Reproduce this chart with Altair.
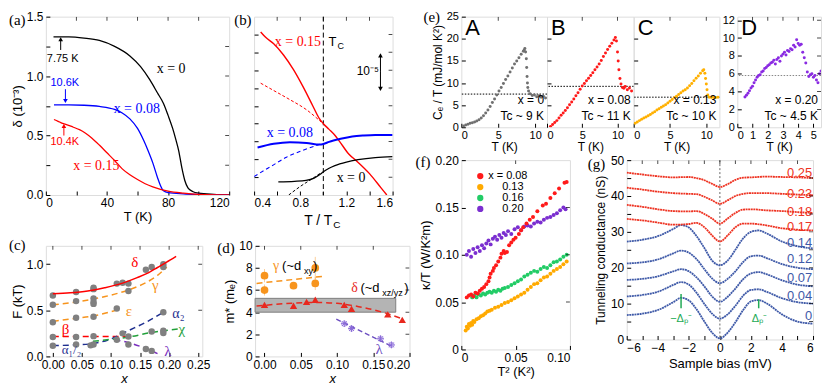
import altair as alt
import pandas as pd

SANS = "Liberation Sans"
SERIF = "Liberation Serif"
ONE = pd.DataFrame({"k": [0]})

# ---------------- (a) delta vs T ----------------
a_T0 = [5, 15, 25, 35, 45, 55, 62, 68, 73, 77, 80, 83, 85, 87, 89, 91, 93, 96, 100, 110, 120]
a_d0 = [1.33, 1.33, 1.32, 1.30, 1.25, 1.17, 1.08, 0.97, 0.86, 0.77, 0.67, 0.56, 0.47, 0.37, 0.23, 0.12, 0.06, 0.03, 0.015, 0.005, 0.0]
a_T08 = [5.3, 15, 25, 35, 45, 50, 55, 60, 64, 67, 70, 73, 75, 77, 80, 90, 100, 120]
a_d08 = [0.758, 0.758, 0.755, 0.745, 0.72, 0.69, 0.64, 0.56, 0.46, 0.37, 0.27, 0.15, 0.08, 0.035, 0.02, 0.01, 0.005, 0.0]
a_T15 = [5.3, 8, 10.4, 13, 18, 22, 26, 30, 35, 40, 45, 50, 55, 60, 65, 70, 80, 90, 100, 120]
a_d15 = [0.635, 0.62, 0.605, 0.595, 0.57, 0.55, 0.52, 0.48, 0.42, 0.355, 0.29, 0.22, 0.17, 0.13, 0.095, 0.068, 0.032, 0.015, 0.005, 0.0]

# ---------------- (b) normalized curves ----------------
b_r_x = [0.457, 0.50, 0.57, 0.655, 0.74, 0.825, 0.91, 0.967, 1.0, 1.05, 1.10, 1.14, 1.22, 1.29, 1.40, 1.50, 1.55]
b_r_y = [9.14, 8.84, 8.48, 7.85, 7.04, 6.06, 4.98, 4.27, 4.0, 3.68, 3.35, 3.01, 2.3, 1.9, 1.2, 0.4, 0.0]
b_rd_x = [0.457, 0.6, 0.712, 0.85, 0.98]
b_rd_y = [6.27, 5.75, 5.34, 4.8, 4.1]
b_b_x = [0.43, 0.57, 0.71, 0.855, 0.967, 1.0, 1.05, 1.15, 1.25, 1.35, 1.45, 1.6]
b_b_y = [2.66, 2.87, 2.96, 2.92, 2.83, 2.86, 2.98, 3.15, 3.28, 3.34, 3.37, 3.37]
b_bd_x = [0.4, 0.55, 0.68, 0.82, 0.98]
b_bd_y = [1.04, 1.62, 2.12, 2.5, 2.87]
b_k_x = [0.61, 0.75, 0.85, 0.92, 0.97, 1.0, 1.05, 1.1, 1.2, 1.3, 1.45, 1.6]
b_k_y = [0.74, 0.77, 0.82, 0.95, 1.15, 1.3, 1.5, 1.65, 1.85, 1.98, 2.1, 2.15]
b_kd_x = [0.70, 0.8, 0.9, 0.98]
b_kd_y = [0.0, 0.48, 0.9, 1.25]

# ---------------- (c) frequencies ----------------
c_x = [0, 0, 0, 0, 0, 0.04, 0.04, 0.04, 0.04, 0.04, 0.065, 0.07, 0.07, 0.07, 0.07, 0.07, 0.07, 0.07, 0.07,
       0.11, 0.11, 0.11, 0.12, 0.12, 0.13, 0.13, 0.13, 0.13, 0.16, 0.16, 0.17, 0.17, 0.17, 0.19, 0.19, 0.19, 0.19, 0.19]
c_F = [0.66, 0.56, 0.37, 0.21, 0.115, 0.70, 0.60, 0.42, 0.21, 0.13, 0.12, 0.73, 0.745, 0.63, 0.59, 0.57, 0.43, 0.22, 0.13,
       0.79, 0.52, 0.18, 0.80, 0.25, 0.79, 0.71, 0.215, 0.13, 0.94, 0.08, 0.97, 0.27, 0.06, 1.0, 0.97, 0.48, 0.28, 0.255]
c_delta_x = [0, 0.03, 0.06, 0.089, 0.12, 0.145, 0.165, 0.18, 0.195, 0.212]
c_delta_y = [0.68, 0.69, 0.71, 0.745, 0.795, 0.855, 0.91, 0.965, 1.02, 1.085]
c_gamma_x = [0, 0.05, 0.09, 0.134, 0.16, 0.18, 0.196]
c_gamma_y = [0.56, 0.60, 0.65, 0.73, 0.80, 0.88, 0.97]
c_eps_x = [0, 0.04, 0.07, 0.114]
c_eps_y = [0.38, 0.415, 0.44, 0.51]
c_beta_x = [0, 0.134]
c_beta_y = [0.215, 0.215]
c_alpha_x = [0, 0.04, 0.07, 0.1, 0.13, 0.16, 0.19]
c_alpha_y = [0.118, 0.125, 0.14, 0.19, 0.28, 0.37, 0.48]
c_chi_x = [0.069, 0.1, 0.13, 0.17, 0.218]
c_chi_y = [0.165, 0.185, 0.21, 0.26, 0.30]
c_lam_x = [0.106, 0.13, 0.15, 0.17, 0.18]
c_lam_y = [0.18, 0.15, 0.11, 0.06, 0.03]

# ---------------- (d) masses ----------------
d_gx = [0, 0, 0.04, 0.07, 0.07]
d_gy = [7.3, 6.0, 6.4, 8.0, 6.6]
d_gerr = [0.6, 0.5, 0.3, 1.0, 0.6]
d_tx = [0, 0.04, 0.058, 0.07, 0.11, 0.12, 0.17, 0.19]
d_ty = [4.66, 4.58, 4.93, 5.13, 4.66, 4.3, 3.8, 3.3]
d_lx = [0.11, 0.12, 0.16, 0.175]
d_ly = [2.96, 2.52, 1.6, 1.04]
d_lfit_x = [0.099, 0.176]
d_lfit_y = [3.37, 0.9]
d_dfit_x = [-0.011, 0.03, 0.07, 0.10, 0.13, 0.16, 0.19]
d_dfit_y = [4.55, 4.78, 4.88, 4.8, 4.5, 4.05, 3.4]
d_gfit_x = [-0.011, 0.082]
d_gfit_y = [6.6, 7.25]

# ---------------- (e) specific heat ----------------
A_T = [0.3, 0.6, 0.9, 1.2, 1.5, 1.8, 2.1, 2.4, 2.7, 3.0, 3.3, 3.6, 3.9, 4.2, 4.5, 4.8, 5.1, 5.4, 5.7, 6.0, 6.3, 6.6,
       6.9, 7.2, 7.5, 7.8, 8.1, 8.4, 8.6, 8.5, 8.7, 8.8, 8.85, 8.9, 8.95, 9.0, 9.1, 9.3, 9.6, 9.9, 10.2, 10.5, 10.8, 11.1, 11.4]
A_C = [0.3, 0.5, 0.7, 0.9, 1.0, 1.2, 1.4, 1.7, 2.1, 2.6, 3.2, 3.9, 4.7, 5.6, 6.4, 7.3, 8.2, 9.0, 9.9, 10.8, 11.6, 12.5,
       13.4, 14.3, 15.0, 15.7, 16.5, 17.2, 17.8, 17.4, 17.0, 15.5, 13.5, 11.5, 10.0, 9.0, 8.2, 7.6, 7.2, 7.3, 6.9, 7.1, 6.8, 7.0, 6.6]
B_T = [0.5, 0.8, 1.1, 1.4, 1.7, 2.0, 2.3, 2.6, 2.9, 3.2, 3.5, 3.8, 4.1, 4.4, 4.7, 5.0, 5.3, 5.6, 5.9, 6.2, 6.5, 6.8,
       7.1, 7.4, 7.7, 8.0, 8.3, 8.6, 8.9, 9.2, 9.5, 9.7, 9.85, 10.0, 10.1, 10.2, 10.35, 10.5, 10.7, 10.9, 11.1, 11.4, 11.7, 12.0]
B_C = [0.2, 0.6, 1.1, 1.5, 2.1, 2.7, 3.2, 3.8, 4.4, 5.1, 5.7, 6.4, 7.1, 7.8, 8.6, 9.3, 9.9, 10.5, 11.1, 11.7, 12.3, 13.0,
       13.6, 14.3, 15.1, 16.0, 16.8, 17.6, 18.3, 19.0, 19.7, 20.3, 19.5, 17.0, 15.0, 13.0, 11.0, 9.8, 9.0, 8.8, 9.2, 8.5, 8.9, 8.2]
C_T = [0.2, 0.5, 0.8, 1.1, 1.4, 1.7, 2.0, 2.3, 2.6, 2.9, 3.2, 3.5, 3.8, 4.1, 4.4, 4.7, 5.0, 5.3, 5.6, 5.9, 6.2, 6.5,
       6.8, 7.1, 7.4, 7.7, 8.0, 8.3, 8.6, 8.9, 9.2, 9.5, 9.65, 9.8, 9.9, 10.0, 10.1, 10.2, 10.4, 10.7, 11.0, 11.3, 11.6]
C_C = [0.9, 1.2, 1.5, 1.8, 2.1, 2.3, 2.6, 2.9, 3.2, 3.5, 3.9, 4.2, 4.5, 4.8, 5.1, 5.5, 5.9, 6.3, 6.7, 7.0, 7.4, 7.8,
       8.2, 8.5, 8.9, 9.4, 9.9, 10.5, 11.1, 11.6, 12.2, 12.8, 13.0, 12.2, 11.0, 9.8, 8.5, 7.3, 6.8, 6.7, 6.8, 6.7, 6.8]
D_T = [0.5, 0.6, 0.7, 0.8, 0.9, 1.0, 1.1, 1.2, 1.3, 1.4, 1.5, 1.6, 1.7, 1.8, 1.9, 2.0, 2.1, 2.2, 2.3, 2.4, 2.5, 2.6,
       2.7, 2.8, 2.9, 3.0, 3.1, 3.2, 3.3, 3.4, 3.5, 3.6, 3.7, 3.8, 3.9, 4.0, 4.1, 4.2, 4.3, 4.4, 4.5, 4.6, 4.7, 4.8, 4.9,
       5.0, 5.1, 5.2, 5.3, 5.4, 5.5]
D_C = [3.4, 3.6, 3.8, 4.1, 4.4, 4.6, 5.0, 5.3, 5.6, 5.8, 5.9, 6.2, 6.3, 6.6, 6.7, 6.9, 7.0, 7.2, 7.3, 7.5, 7.1, 7.6,
       7.8, 7.4, 8.0, 8.2, 8.4, 8.1, 8.6, 8.5, 8.8, 8.7, 9.2, 9.0, 9.8, 9.4, 9.2, 9.3, 8.4, 7.8, 7.2, 6.2, 5.7, 5.9, 6.0,
       5.6, 5.8, 5.3, 5.0, 6.0, 6.3]

# ---------------- (f) thermal conductivity ----------------
f_r_x = [0.005, 0.007, 0.009, 0.011, 0.013, 0.015, 0.017, 0.019, 0.021, 0.023, 0.025, 0.026, 0.027, 0.029, 0.030, 0.032,
         0.034, 0.036, 0.037, 0.039, 0.040, 0.042, 0.044, 0.046, 0.048, 0.050, 0.053, 0.055, 0.057, 0.060, 0.063, 0.066,
         0.070, 0.075, 0.078, 0.082, 0.086, 0.090, 0.095, 0.097]
f_r_y = [0.055, 0.057, 0.058, 0.056, 0.060, 0.059, 0.062, 0.064, 0.066, 0.069, 0.072, 0.076, 0.080, 0.083, 0.086, 0.089,
         0.093, 0.097, 0.101, 0.104, 0.102, 0.103, 0.110, 0.113, 0.116, 0.118, 0.122, 0.126, 0.129, 0.133, 0.137, 0.140,
         0.146, 0.152, 0.154, 0.160, 0.165, 0.170, 0.176, 0.177]
f_o_x = [0.004, 0.005, 0.006, 0.007, 0.008, 0.009, 0.010, 0.011, 0.012, 0.014, 0.016, 0.018, 0.020, 0.022, 0.024, 0.026,
         0.028, 0.031, 0.034, 0.037, 0.040, 0.043, 0.046, 0.049, 0.052, 0.055, 0.058, 0.061, 0.064, 0.067, 0.070, 0.073,
         0.076, 0.079, 0.082, 0.085, 0.088, 0.091, 0.094, 0.097]
f_o_y = [0.020, 0.024, 0.022, 0.027, 0.025, 0.028, 0.026, 0.030, 0.029, 0.032, 0.033, 0.035, 0.036, 0.038, 0.040, 0.041,
         0.042, 0.044, 0.045, 0.047, 0.049, 0.050, 0.052, 0.054, 0.056, 0.058, 0.060, 0.063, 0.066, 0.069, 0.070, 0.073,
         0.076, 0.077, 0.080, 0.083, 0.085, 0.087, 0.090, 0.093]
f_g_x = [0.010, 0.012, 0.014, 0.016, 0.018, 0.020, 0.022, 0.024, 0.026, 0.028, 0.030, 0.032, 0.034, 0.036, 0.038, 0.040,
         0.043, 0.046, 0.049, 0.052, 0.055, 0.058, 0.061, 0.064, 0.067, 0.070, 0.073, 0.076, 0.079, 0.082, 0.085, 0.088,
         0.091, 0.094, 0.097]
f_g_y = [0.055, 0.057, 0.055, 0.058, 0.057, 0.059, 0.058, 0.060, 0.061, 0.060, 0.062, 0.061, 0.063, 0.062, 0.064, 0.065,
         0.066, 0.068, 0.070, 0.072, 0.074, 0.077, 0.079, 0.081, 0.083, 0.082, 0.085, 0.087, 0.086, 0.089, 0.092, 0.093,
         0.095, 0.098, 0.100]
f_p_x = [0.005, 0.007, 0.009, 0.011, 0.013, 0.015, 0.017, 0.019, 0.021, 0.023, 0.025, 0.027, 0.029, 0.031, 0.033, 0.035,
         0.037, 0.039, 0.041, 0.043, 0.046, 0.049, 0.052, 0.055, 0.058, 0.061, 0.064, 0.067, 0.070, 0.073, 0.076, 0.079,
         0.082, 0.085, 0.088, 0.091, 0.094, 0.096]
f_p_y = [0.100, 0.104, 0.098, 0.106, 0.102, 0.108, 0.104, 0.110, 0.107, 0.112, 0.115, 0.111, 0.117, 0.119, 0.116, 0.121,
         0.118, 0.123, 0.121, 0.125, 0.122, 0.127, 0.129, 0.126, 0.130, 0.131, 0.130, 0.133, 0.135, 0.134, 0.137, 0.139,
         0.140, 0.142, 0.144, 0.147, 0.150, 0.148]
f_labels = ["x = 0.08", "0.13", "0.16", "0.20"]

# ---------------- (g) tunneling spectra ----------------
g_bias_blue = [-6, -5, -4, -3, -2.5, -2, -1.5, -1, -0.5, 0, 0.5, 1, 1.5, 2, 2.5, 3, 4, 5, 6]
g_00 = [6.8, 7.2, 8.2, 10.4, 11.6, 10.9, 8.4, 5.0, 1.9, 0.3, 1.9, 4.8, 8.2, 10.6, 11.0, 10.1, 7.0, 5.0, 4.4]
g_04 = [12.0, 12.4, 13.3, 15.2, 16.0, 15.3, 13.0, 9.9, 7.2, 5.8, 7.0, 9.4, 12.2, 13.8, 14.0, 13.3, 11.5, 10.4, 10.0]
g_07 = [16.6, 16.9, 17.6, 19.0, 19.6, 19.0, 17.3, 14.8, 12.0, 10.5, 11.9, 14.2, 16.8, 18.4, 18.8, 18.2, 16.5, 15.3, 14.8]
g_12 = [21.2, 21.5, 22.3, 24.0, 24.8, 24.2, 22.4, 19.6, 17.0, 15.7, 16.9, 19.0, 21.6, 23.2, 23.4, 22.7, 21.0, 20.0, 19.6]
g_14 = [27.3, 27.8, 28.8, 30.8, 31.9, 31.2, 28.8, 25.5, 22.0, 20.7, 22.0, 25.0, 28.2, 30.0, 30.4, 29.6, 27.3, 26.0, 25.4]
g_bias_red = [-6, -5, -4, -3, -2, -1.5, -1, -0.5, 0, 0.5, 1, 1.5, 2, 3, 4, 5, 6]
g_17 = [33.6, 33.2, 32.6, 32.0, 32.2, 32.5, 31.3, 29.0, 27.3, 29.0, 31.3, 32.3, 32.3, 31.8, 31.0, 30.6, 30.4]
g_18 = [37.5, 37.0, 36.3, 35.8, 35.7, 35.8, 35.0, 33.7, 32.3, 33.7, 35.3, 36.2, 36.3, 36.0, 35.8, 35.5, 35.3]
g_23 = [42.3, 41.8, 41.2, 40.8, 40.6, 40.5, 39.8, 38.8, 37.8, 38.8, 40.0, 40.6, 40.8, 40.8, 40.6, 40.4, 40.2]
g_25 = [46.5, 46.0, 45.5, 45.2, 45.3, 45.0, 44.4, 43.4, 42.5, 43.3, 44.5, 45.1, 45.2, 45.4, 45.3, 45.2, 45.0]
g_labels = ["0.25", "0.23", "0.18", "0.17", "0.14", "0.12", "0.07", "0.04", "0"]
g_label_y = [46.4, 40.6, 35.6, 31.3, 27.0, 22.3, 17.1, 12.1, 6.6]

# ---------------- colours ----------------
RED, BLUE, BLACK = "#ff0000", "#0000ff", "#000000"
ORANGE, NAVY, GREEN, PURPLE, GREY = "#f7941d", "#1f2f8f", "#22a03a", "#7a2fbe", "#808080"
G_BLUE, G_RED, G_GREEN = "#3f5aa8", "#ee3322", "#22aa55"

# ---------------- sizes ----------------
W_A, H_AB, W_B = 184, 179, 139
W_C, H_CD, W_D = 157, 111, 155
W_EA, W_EB, W_EC, W_ED, H_E, W_SP = 86, 87, 86, 84, 111, 18
W_F, H_F, W_G, H_G = 109, 190, 187, 180


def pts(xs, ys, **extra):
    return pd.DataFrame({"x": xs, "y": ys, **extra})


def axis(values, labels=True, label_expr=None, fmt=None, title_pad=None, title_style=None,
         label_size=12, title_size=13, label_pad=3):
    kw = dict(values=values, labels=labels, offset=-4, tickSize=4, domain=False, labelPadding=label_pad,
              grid=False, tickColor="black", labelColor="black", labelFont=SANS, labelFontSize=label_size,
              titleFont=SANS, titleFontSize=title_size, titleFontWeight="normal", titleColor="black")
    if label_expr is not None:
        kw["labelExpr"] = label_expr
    if fmt is not None:
        kw["format"] = fmt
    if title_pad is not None:
        kw["titlePadding"] = title_pad
    if title_style is not None:
        kw["titleFontStyle"] = title_style
    return alt.Axis(**kw)


def X(dom, ax, title=None):
    return alt.X("x:Q", scale=alt.Scale(domain=dom, nice=False, zero=False), axis=ax, title=title)


def Y(dom, ax, title=None):
    return alt.Y("y:Q", scale=alt.Scale(domain=dom, nice=False, zero=False), axis=ax, title=title)


def line(d, xe, ye, color, width=1.3, dash=None, interp="monotone"):
    kw = dict(color=color, strokeWidth=width, interpolate=interp, clip=True)
    if dash is not None:
        kw["strokeDash"] = dash
    return alt.Chart(d).mark_line(**kw).encode(x=xe, y=ye)


def dots(d, xe, ye, color, size=10, shape="circle", filled=True, opacity=1.0, sw=1.0):
    return alt.Chart(d).mark_point(shape=shape, filled=filled, size=size, color=color,
                                   opacity=opacity, strokeWidth=sw, clip=True).encode(x=xe, y=ye)


def dtext(x, y, xe, ye, txt, color="black", size=12, font=SANS, align="center", baseline="middle",
          style="normal", dx=0, dy=0):
    return alt.Chart(pts([x], [y])).mark_text(text=txt, color=color, fontSize=size, font=font, align=align,
                                             baseline=baseline, fontStyle=style, dx=dx, dy=dy).encode(x=xe, y=ye)


def ptext(px, py, txt, color="black", size=12, font=SANS, align="left", baseline="top", style="normal"):
    return alt.Chart(ONE).mark_text(text=txt, color=color, fontSize=size, font=font, align=align,
                                    baseline=baseline, fontStyle=style).encode(x=alt.value(px), y=alt.value(py))


def panel_label(txt, px, py):
    return ptext(px, py, txt, size=15, font=SERIF)


def mirror(xe, ye, w, xvals=None, yvals=None):
    """Inward tick marks on the top and right frame edges, at the axes' own tick values."""
    out = []
    if xvals:
        out.append(alt.Chart(pd.DataFrame({"x": xvals})).mark_tick(
            orient="vertical", size=4, thickness=1, color="black", clip=True).encode(x=xe, y=alt.value(2)))
    if yvals:
        out.append(alt.Chart(pd.DataFrame({"y": yvals})).mark_tick(
            orient="horizontal", size=4, thickness=1, color="black", clip=True).encode(y=ye, x=alt.value(w - 2)))
    return out


def arrow(x, y0, y1, xe, ye, color):
    d = pd.DataFrame({"x": [x], "y": [y0], "y2": [y1]})
    r = alt.Chart(d).mark_rule(color=color, strokeWidth=1).encode(x=xe, y=ye, y2="y2:Q")
    shape = "triangle-up" if y1 > y0 else "triangle-down"
    h = alt.Chart(pts([x], [y1])).mark_point(shape=shape, filled=True, size=22, color=color, opacity=1).encode(x=xe, y=ye)
    return [r, h]


# ================= panel (a) =================
a_xt = [0, 20, 40, 60, 80, 100, 120]
a_yt = [0, 0.25, 0.5, 0.75, 1.0, 1.25, 1.5]
xa = X([0, 120], axis(a_xt, label_expr="datum.value % 40 === 0 ? datum.label : ''", title_pad=2), "T (K)")
ya = Y([0, 1.5], axis(a_yt, label_expr="datum.value % 0.5 === 0 ? format(datum.value, '.1f') : ''", title_pad=2),
       "δ (10⁻³)")
pa_layers = [
    line(pts(a_T0, a_d0), xa, ya, BLACK),
    line(pts(a_T08, a_d08), xa, ya, BLUE),
    line(pts(a_T15, a_d15), xa, ya, RED),
    *arrow(9.7, 1.22, 1.31, xa, ya, BLACK),
    *arrow(12.8, 0.89, 0.79, xa, ya, BLUE),
    *arrow(11.8, 0.50, 0.58, xa, ya, RED),
    dtext(11, 1.14, xa, ya, "7.75 K", BLACK, 11),
    dtext(12.4, 0.94, xa, ya, "10.6K", BLUE, 11),
    dtext(12.4, 0.445, xa, ya, "10.4K", RED, 11),
    dtext(82, 1.056, xa, ya, "x = 0", BLACK, 14, SERIF),
    dtext(59.5, 0.726, xa, ya, "x = 0.08", BLUE, 14, SERIF),
    dtext(33, 0.24, xa, ya, "x = 0.15", RED, 14, SERIF),
    *mirror(xa, ya, W_A, a_xt[1:-1], a_yt[1:-1]),
    panel_label("(a)", -37, -4),
]
pa = alt.layer(*pa_layers).properties(width=W_A, height=H_AB)

# ================= panel (b) =================
b_xt = [0.4, 0.6, 0.8, 1.0, 1.2, 1.4, 1.6]
b_yt = [1, 2, 3, 4, 5, 6, 7, 8, 9]
xb = X([0.4, 1.6], axis(b_xt, fmt=".1f"), None)
yb = Y([0, 10], axis(b_yt, labels=False), None)
pb_layers = [
    alt.Chart(pd.DataFrame({"x": [1.0]})).mark_rule(color="black", strokeDash=[5, 3], strokeWidth=1).encode(x=xb),
    line(pts(b_rd_x, b_rd_y), xb, yb, RED, 1, [3, 2]),
    line(pts(b_bd_x, b_bd_y), xb, yb, BLUE, 1.1, [4, 3]),
    line(pts(b_kd_x, b_kd_y), xb, yb, BLACK, 1, [3, 2]),
    line(pts(b_r_x, b_r_y), xb, yb, RED, 1.4),
    line(pts(b_b_x, b_b_y), xb, yb, BLUE, 2),
    line(pts(b_k_x, b_k_y), xb, yb, BLACK, 1.3),
    *arrow(1.495, 6.9, 7.83, xb, yb, BLACK),
    *arrow(1.495, 6.9, 5.95, xb, yb, BLACK),
    dtext(1.385, 6.95, xb, yb, "10⁻⁵", BLACK, 12),
    dtext(0.78, 8.57, xb, yb, "x = 0.15", RED, 14, SERIF),
    dtext(0.71, 3.46, xb, yb, "x = 0.08", BLUE, 14, SERIF),
    dtext(1.24, 0.95, xb, yb, "x = 0", BLACK, 14, SERIF),
    dtext(1.045, 8.6, xb, yb, "T", BLACK, 13, SANS, "left"),
    dtext(1.045, 8.6, xb, yb, "C", BLACK, 9, SANS, "left", dx=9, dy=4),
    *mirror(xb, yb, W_B, b_xt[1:-1], b_yt),
    ptext(W_B / 2 + 9, H_AB + 30, "T / T", size=14, align="right", baseline="alphabetic"),
    ptext(W_B / 2 + 10, H_AB + 33, "C", size=10, align="left", baseline="alphabetic"),
    panel_label("(b)", -20, -4),
]
pb = alt.layer(*pb_layers).properties(width=W_B, height=H_AB)

# ================= panel (c) =================
c_xt = [0, 0.05, 0.1, 0.15, 0.2, 0.25]
c_yt = [0, 0.5, 1.0]
xc = X([-0.012, 0.257], axis(c_xt, fmt=".2f", title_pad=2, title_style="italic"), "x")
yc = Y([0, 1.2], axis(c_yt, fmt=".1f", title_pad=2), "F (kT)")
pc_layers = [
    line(pts(c_eps_x, c_eps_y), xc, yc, ORANGE, 1.5, [6, 4]),
    line(pts(c_gamma_x, c_gamma_y), xc, yc, ORANGE, 1.5, [6, 4]),
    line(pts(c_beta_x, c_beta_y), xc, yc, RED, 1.5, [6, 4]),
    line(pts(c_alpha_x, c_alpha_y), xc, yc, NAVY, 1.5, [6, 4]),
    line(pts(c_chi_x, c_chi_y), xc, yc, GREEN, 1.5, [6, 4]),
    line(pts(c_lam_x, c_lam_y), xc, yc, PURPLE, 1.5, [6, 4]),
    dots(pts(c_x, c_F), xc, yc, GREY, 42),
    line(pts(c_delta_x, c_delta_y), xc, yc, RED, 1.5),
    dtext(0.141, 1.02, xc, yc, "δ", RED, 15, SERIF),
    dtext(0.176, 0.77, xc, yc, "γ", ORANGE, 15, SERIF),
    dtext(0.131, 0.495, xc, yc, "ε", ORANGE, 15, SERIF),
    dtext(0.022, 0.297, xc, yc, "β", RED, 15, SERIF),
    dtext(0.032, 0.066, xc, yc, "α₁/₂", NAVY, 13, SERIF),
    dtext(0.216, 0.462, xc, yc, "α₂", NAVY, 14, SERIF),
    dtext(0.222, 0.30, xc, yc, "χ", GREEN, 15, SERIF),
    dtext(0.198, 0.055, xc, yc, "λ", PURPLE, 15, SERIF),
    *mirror(xc, yc, W_C, c_xt, c_yt[1:]),
    panel_label("(c)", -37, -8),
]
pc = alt.layer(*pc_layers).properties(width=W_C, height=H_CD)

# ================= panel (d) =================
d_xt = [0, 0.05, 0.1, 0.15]
d_yt = [0, 2, 4, 6, 8, 10]
xd = X([-0.013, 0.2], axis(d_xt + [0.2], fmt=".2f", title_pad=2, title_style="italic"), "x")
yd = Y([0, 10], axis(d_yt, title_pad=2), "m* (mₑ)")
band = pd.DataFrame({"x": [-0.013], "x2": [0.181], "y": [4.0], "y2": [5.25]})
err = pd.DataFrame({"x": d_gx, "y": [v - e for v, e in zip(d_gy, d_gerr)], "y2": [v + e for v, e in zip(d_gy, d_gerr)]})
AST = "M-1,0L1,0M0,-1L0,1M-0.7,-0.7L0.7,0.7M-0.7,0.7L0.7,-0.7"
pd_layers = [
    alt.Chart(band).mark_rect(color="#b4b4b4", stroke="#808080", strokeWidth=1).encode(x=xd, x2="x2:Q", y=yd, y2="y2:Q"),
    alt.Chart(err).mark_rule(color=ORANGE, opacity=0.45, strokeWidth=1).encode(x=xd, y=yd, y2="y2:Q"),
    line(pts(d_gfit_x, d_gfit_y), xd, yd, ORANGE, 1.5, [6, 4]),
    line(pts(d_dfit_x, d_dfit_y), xd, yd, "#e8281e", 1.5, [6, 4]),
    line(pts(d_lfit_x, d_lfit_y), xd, yd, "#6a4cc0", 1.3, [5, 3]),
    dots(pts(d_gx, d_gy), xd, yd, ORANGE, 60),
    dots(pts(d_tx, d_ty), xd, yd, "#e8281e", 55, "triangle-up"),
    dots(pts(d_lx, d_ly), xd, yd, "#8a6ad8", 45, AST, False, 1.0, 1.0),
    dots(pts(d_lx, d_ly), xd, yd, "#8a6ad8", 30, "circle", False, 0.7, 0.8),
    dtext(0.016, 8.2, xd, yd, "γ", ORANGE, 14, SERIF),
    dtext(0.016, 8.2, xd, yd, "(~d", BLACK, 13, SANS, "left", dx=6),
    dtext(0.016, 8.2, xd, yd, "xy", BLACK, 9, SANS, "left", dx=28, dy=5),
    dtext(0.016, 8.2, xd, yd, ")", BLACK, 13, SANS, "left", dx=37),
    dtext(0.124, 6.16, xd, yd, "δ", "#e8281e", 14, SERIF),
    dtext(0.124, 6.16, xd, yd, "(~d", BLACK, 13, SANS, "left", dx=6),
    dtext(0.124, 6.16, xd, yd, "xz/yz", BLACK, 9, SANS, "left", dx=28, dy=5),
    dtext(0.124, 6.16, xd, yd, ")", BLACK, 13, SANS, "left", dx=50),
    dtext(0.158, 0.69, xd, yd, "λ", "#6a4cc0", 15, SERIF),
    *mirror(xd, yd, W_D, d_xt, d_yt[1:-1]),
    panel_label("(d)", -38, -5),
]
pdd = alt.layer(*pd_layers).properties(width=W_D, height=H_CD)


# ================= panel (e) =================
def e_panel(T, C, color, xdom, ydom, xvals, yvals, ylabels, letter, xtxt, tctxt, hline, w, ytitle=None,
            hcolor="black", extra=None, right_ticks=False):
    xe = X(xdom, axis(xvals, title_pad=1, label_size=11, title_size=12, label_pad=2), "T (K)")
    ye = Y(ydom, axis(yvals, labels=ylabels, title_pad=2, label_size=11, title_size=12), ytitle)
    layers = [
        alt.Chart(pd.DataFrame({"y": [hline]})).mark_rule(color=hcolor, strokeDash=[1.5, 1.5], strokeWidth=1).encode(y=ye),
        dots(pts(T, C), xe, ye, color, 9),
        *mirror(xe, ye, w, [v for v in xvals if v > 0], [v for v in yvals if v > 0] if right_ticks else None),
        ptext(4, 1, letter, size=22, align="left", baseline="top"),
        ptext(w - 3, H_E - 27, xtxt, size=12, align="right", baseline="middle"),
        ptext(w - 3, H_E - 11, tctxt, size=12, align="right", baseline="middle"),
    ]
    if extra:
        layers += extra
    return alt.layer(*layers).properties(width=w, height=H_E)


eA = e_panel(A_T, A_C, "#707070", [0, 11.6], [0, 25], [0, 5, 10], [0, 5, 10, 15, 20, 25], True, "A",
             "x = 0", "Tc ~ 9 K", 7.5, W_EA, "Cₑ / T (mJ/mol K²)", extra=[panel_label("(e)", -38, -7)])
eB = e_panel(B_T, B_C, "#ff1a1a", [0, 12.3], [0, 25], [0, 5, 10], [5, 10, 15, 20], False, "B",
             "x = 0.08", "Tc ~ 11 K", 9.25, W_EB)
eC = e_panel(C_T, C_C, "#ffb000", [0, 11.8], [0, 25], [0, 5, 10], [5, 10, 15, 20], False, "C",
             "x = 0.13", "Tc ~ 10 K", 6.8, W_EC)
eD = e_panel(D_T, D_C, "#8a2be2", [0, 5.5], [0, 12.4], [0, 1, 2, 3, 4, 5], [0, 2, 4, 6, 8, 10, 12], True, "D",
             "x = 0.20", "Tc ~ 4.5 K", 5.8, W_ED, hcolor="#888888", right_ticks=True)
spacer = alt.Chart(ONE).mark_point(opacity=0).encode(x=alt.value(0), y=alt.value(0)).properties(
    width=W_SP, height=H_E, view=alt.ViewBackground(stroke="transparent"))

# ================= panel (f) =================
f_xt = [0, 0.05, 0.1]
f_yt = [0, 0.05, 0.1, 0.15, 0.2]
xf = X([0, 0.1], axis(f_xt, label_expr="datum.value === 0 ? '0' : format(datum.value, '.2f')", title_pad=2),
       "T² (K²)")
yf = Y([0, 0.2], axis(f_yt, label_expr="datum.value === 0 ? '0' : format(datum.value, '.2f')", title_pad=3),
       "κ/T (W/K²m)")
F_COLS = ["#ff1a1a", "#ffaa00", "#22cc66", "#7b2fd0"]
pf_layers = [
    dots(pts(f_o_x, f_o_y), xf, yf, F_COLS[1], 16),
    dots(pts(f_g_x, f_g_y), xf, yf, F_COLS[2], 16),
    dots(pts(f_p_x, f_p_y), xf, yf, F_COLS[3], 16),
    dots(pts(f_r_x, f_r_y), xf, yf, F_COLS[0], 16),
    *mirror(xf, yf, W_F, [0.05], [0.05, 0.1, 0.15]),
    panel_label("(f)", -46, -5),
]
for i, (lab, col) in enumerate(zip(f_labels, F_COLS)):
    ly = 16 + i * 11
    pf_layers.append(alt.Chart(ONE).mark_point(filled=True, size=40, color=col, opacity=1).encode(
        x=alt.value(19), y=alt.value(ly)))
    pf_layers.append(ptext(27 if i == 0 else 41, ly, lab, size=11, baseline="middle"))
pf = alt.layer(*pf_layers).properties(width=W_F, height=H_F)

# ================= panel (g) =================
g_xt = list(range(-6, 7))
g_yt = list(range(0, 55, 5))
xg = X([-6, 6], axis(g_xt, label_expr="datum.value % 2 === 0 ? datum.label : ''", title_pad=4),
       "Sample bias (mV)")
yg = Y([0, 50], axis(g_yt, label_expr="datum.value % 10 === 0 ? datum.label : ''", title_pad=3,
                     title_size=12), "Tunneling conductance (nS)")
g_rows = []
for name, vals in [("0", g_00), ("0.04", g_04), ("0.07", g_07), ("0.12", g_12), ("0.14", g_14)]:
    g_rows.append(pd.DataFrame({"x": g_bias_blue, "y": vals, "c": name}))
for name, vals in [("0.17", g_17), ("0.18", g_18), ("0.23", g_23), ("0.25", g_25)]:
    g_rows.append(pd.DataFrame({"x": g_bias_red, "y": vals, "c": name}))
g_df = pd.concat(g_rows, ignore_index=True)
g_dom = ["0", "0.04", "0.07", "0.12", "0.14", "0.17", "0.18", "0.23", "0.25"]
g_rng = [G_BLUE] * 5 + [G_RED] * 4
lab_df = pd.DataFrame({"x": [5.95] * 9, "y": g_label_y, "c": g_labels})
pg_layers = [
    alt.Chart(pd.DataFrame({"x": [0.0]})).mark_rule(color="#666666", strokeDash=[2, 2], strokeWidth=1).encode(x=xg),
    alt.Chart(g_df).mark_line(interpolate="monotone", strokeWidth=1.8, strokeDash=[2, 0.6], clip=True).encode(
        x=xg, y=yg, detail="c:N",
        color=alt.Color("c:N", scale=alt.Scale(domain=g_dom, range=g_rng), legend=None)),
    alt.Chart(lab_df).mark_text(align="right", baseline="middle", fontSize=13, font=SANS).encode(
        x=xg, y=yg, text="c:N",
        color=alt.Color("c:N", scale=alt.Scale(domain=g_dom, range=g_rng), legend=None)),
    alt.Chart(pd.DataFrame({"x": [-2.5, 2.5], "y": [8.7, 8.7], "y2": [12.7, 11.2]})).mark_rule(
        color=G_GREEN, strokeWidth=1.5).encode(x=xg, y=yg, y2="y2:Q"),
    dtext(-2.5, 5.8, xg, yg, "−Δₚ⁻", G_GREEN, 11),
    dtext(2.55, 5.8, xg, yg, "Δₚ⁻", G_GREEN, 11),
    *mirror(xg, yg, W_G, g_xt[1:-1], g_yt[1:-1]),
    panel_label("(g)", -39, -3),
]
pg = alt.layer(*pg_layers).properties(width=W_G, height=H_G)

# ================= layout =================
left_top = alt.hconcat(pa, pb, spacing=25, bounds="flush")
left_bot = alt.hconcat(pc, pdd, spacing=53, bounds="flush")
left = alt.vconcat(left_top, left_bot, spacing=6)
right_top = alt.hconcat(eA, eB, eC, spacer, eD, spacing=0, bounds="flush")
right_bot = alt.hconcat(pf, pg, spacing=57, bounds="flush")
right = alt.vconcat(right_top, right_bot, spacing=0)

chart = alt.hconcat(left, right, spacing=4, padding=0).configure_view(
    stroke="black", strokeWidth=1).configure(background="white")

chart.save("out.html", embed_options={"renderer": "svg", "actions": False})
